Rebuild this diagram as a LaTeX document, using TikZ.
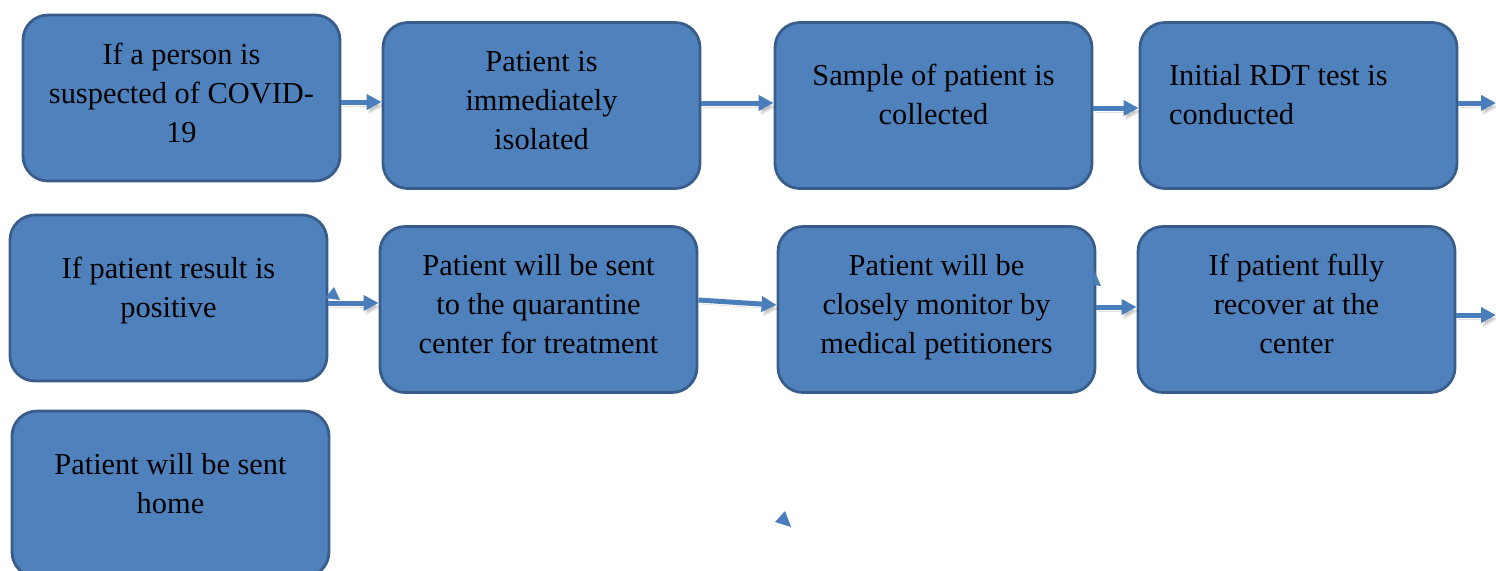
\documentclass[tikz,border=0pt]{standalone}
\usepackage{fontspec}
\setmainfont{Liberation Serif}
\usepackage{tikz}
\usetikzlibrary{arrows.meta}
\definecolor{boxblue}{RGB}{79,129,189}
\definecolor{boxedge}{RGB}{56,93,138}
\definecolor{arrowblue}{RGB}{74,126,187}

\begin{document}
\begin{tikzpicture}[x=0.5pt,y=-0.5pt,font=\fontsize{15.2}{19.5}\selectfont,
  box/.style={draw=boxedge,line width=1.4pt,fill=boxblue,rounded corners=12.5pt,
    minimum width=158.5pt,minimum height=83pt,inner sep=0pt},
  txt/.style={anchor=north,align=center,inner sep=0pt},
  arr/.style={draw=arrowblue,line width=2.5pt,-{Triangle[length=7.5pt,width=7.5pt]},
    preaction={draw=black,opacity=0.12,transform canvas={shift={(1pt,-2pt)}}}}]
  \clip (0,0) rectangle (1496,570);

  % first row
  \node[box] (suspect) at (181.5,98) {};
  \node[box] (isolate) at (541.5,105.5) {};
  \node[box] (sample) at (933.5,105.5) {};
  \node[box] (rdt) at (1298.5,105.5) {};
  % second row
  \node[box] (positive) at (168.5,298) {};
  \node[box] (quarantine) at (538.5,309.5) {};
  \node[box] (monitor) at (936.5,309.5) {};
  \node[box] (recover) at (1296.5,309.5) {};
  % last row
  \node[box] (home) at (170.5,494) {};

  \node[txt] (suspect-t) at ([yshift=-11.5pt]suspect.north) {\strut If a person is\\suspected of COVID-\\19};
  \node[txt] (isolate-t) at ([yshift=-11.5pt]isolate.north) {\strut Patient is\\immediately\\isolated};
  \node[txt] (sample-t) at ([yshift=-18.5pt]sample.north) {\strut Sample of patient is\\collected};
  \node[txt,anchor=north west,align=left] (rdt-t) at ([shift={(30,37)}]rdt.north west) {\strut Initial RDT test is\\conducted};
  \node[txt] (positive-t) at ([yshift=-18.5pt]positive.north) {\strut If patient result is\\positive};
  \node[txt] (quarantine-t) at ([yshift=-11.5pt]quarantine.north) {\strut Patient will be sent\\to the quarantine\\center for treatment};
  \node[txt] (monitor-t) at ([yshift=-11.5pt]monitor.north) {\strut Patient will be\\closely monitor by\\medical petitioners};
  \node[txt] (recover-t) at ([yshift=-11.5pt]recover.north) {\strut If patient fully\\recover at the\\center};
  \node[txt] (home-t) at ([yshift=-18.5pt]home.north) {\strut Patient will be sent\\home};

  \coordinate (out1) at (1496,103);
  \coordinate (out2) at (1496,315);

  \draw[arr] ([yshift=-2pt]suspect.east) -- ([yshift=1.75pt]isolate.west);
  \draw[arr] ([yshift=1.25pt]isolate.east) -- ([yshift=1.25pt]sample.west);
  \draw[arr] ([yshift=-1.25pt]sample.east) -- ([yshift=-1.25pt]rdt.west);
  \draw[arr] ([yshift=1.25pt]rdt.east) -- (out1);
  \draw[arr] ([yshift=-2.5pt]positive.east) -- ([yshift=3.25pt]quarantine.west);
  \draw[arr] ([yshift=4.75pt]quarantine.east) -- ([yshift=2.25pt]monitor.west);
  \draw[arr] ([yshift=1.25pt]monitor.east) -- ([yshift=1.25pt]recover.west);
  \draw[arr] ([yshift=-2.75pt]recover.east) -- (out2);

  % loose arrow heads
  \fill[arrowblue] (325,298) -- (334,287) -- (340,300) -- cycle;
  \fill[arrowblue] (1094,270) -- (1101,286) -- (1094,285) -- cycle;
  \fill[arrowblue] (775,522) -- (785,511) -- (791,527) -- cycle;
\end{tikzpicture}
\end{document}
